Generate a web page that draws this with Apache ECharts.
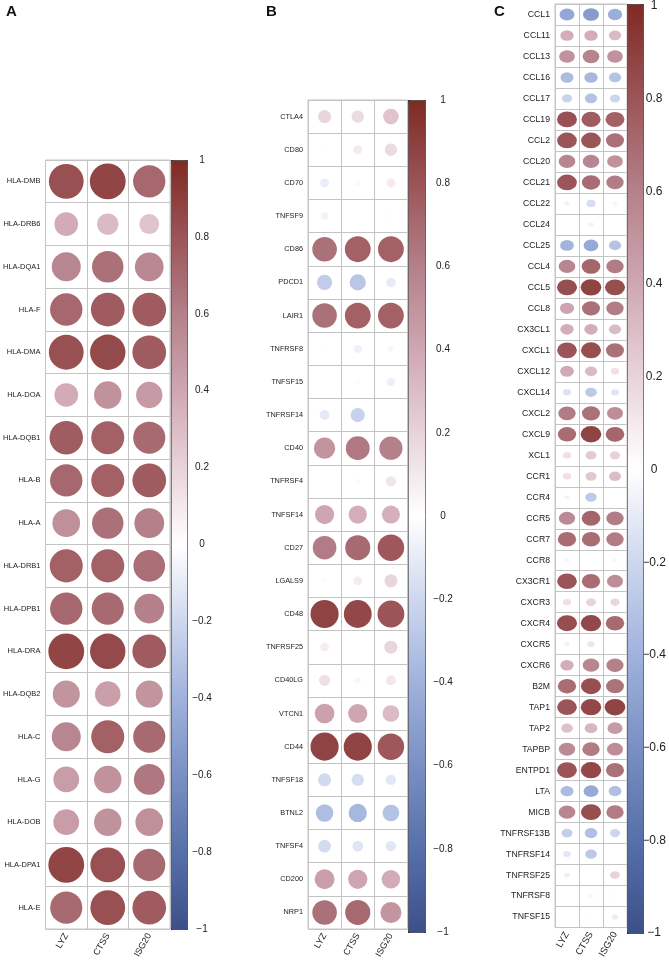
<!DOCTYPE html>
<html lang="en">
<head>
    <meta charset="UTF-8">
    <title>Correlation dot plots</title>
    <script src="https://cdn.jsdelivr.net/npm/echarts@6/dist/echarts.min.js"></script>
    <style>
        html, body { margin: 0; padding: 0; background: #fff; }
        #chart { width: 669px; height: 961px; }
    </style>
</head>
<body>
<div id="chart"></div>
<script>
    'use strict';
    // columns shared by all three panels
    const columns = ['LYZ', 'CTSS', 'ISG20'];

    // panel A
    const genesA = ['HLA-DMB', 'HLA-DRB6', 'HLA-DQA1', 'HLA-F', 'HLA-DMA', 'HLA-DOA', 'HLA-DQB1', 'HLA-B', 'HLA-A',
        'HLA-DRB1', 'HLA-DPB1', 'HLA-DRA', 'HLA-DQB2', 'HLA-C', 'HLA-G', 'HLA-DOB', 'HLA-DPA1', 'HLA-E'];
    const lyzA = [0.82, 0.38, 0.57, 0.71, 0.82, 0.38, 0.76, 0.71, 0.52, 0.74, 0.71, 0.87, 0.50, 0.57, 0.45, 0.45, 0.87, 0.70];
    const ctssA = [0.87, 0.31, 0.67, 0.77, 0.85, 0.51, 0.74, 0.74, 0.67, 0.74, 0.70, 0.85, 0.44, 0.74, 0.51, 0.51, 0.82, 0.82];
    const isgA = [0.71, 0.27, 0.56, 0.77, 0.77, 0.47, 0.70, 0.77, 0.60, 0.68, 0.60, 0.77, 0.50, 0.70, 0.64, 0.52, 0.70, 0.77];

    // panel B
    const genesB = ['CTLA4', 'CD80', 'CD70', 'TNFSF9', 'CD86', 'PDCD1', 'LAIR1', 'TNFRSF8', 'TNFSF15', 'TNFRSF14',
        'CD40', 'TNFRSF4', 'TNFSF14', 'CD27', 'LGALS9', 'CD48', 'TNFRSF25', 'CD40LG', 'VTCN1', 'CD44', 'TNFSF18',
        'BTNL2', 'TNFSF4', 'CD200', 'NRP1'];
    const lyzB = [0.19, 0.01, -0.09, 0.065, 0.67, -0.26, 0.67, 0.01, 0.005, -0.11, 0.5, 0.005, 0.41, 0.62, -0.02,
        0.88, 0.08, 0.14, 0.43, 0.88, -0.19, -0.34, -0.18, 0.44, 0.67];
    const ctssB = [0.17, 0.09, -0.03, 0.0, 0.74, -0.29, 0.74, -0.07, 0.02, -0.225, 0.63, 0.03, 0.37, 0.70, 0.09,
        0.86, 0.0, 0.04, 0.41, 0.88, -0.17, -0.37, -0.13, 0.41, 0.70];
    const isgB = [0.27, 0.17, 0.09, 0.02, 0.74, -0.10, 0.74, 0.04, -0.08, 0.0, 0.6, 0.12, 0.36, 0.78, 0.19,
        0.80, 0.19, 0.11, 0.31, 0.78, -0.12, -0.31, -0.12, 0.38, 0.49];

    // panel C
    const genesC = ['CCL1', 'CCL11', 'CCL13', 'CCL16', 'CCL17', 'CCL19', 'CCL2', 'CCL20', 'CCL21', 'CCL22', 'CCL24',
        'CCL25', 'CCL4', 'CCL5', 'CCL8', 'CX3CL1', 'CXCL1', 'CXCL12', 'CXCL14', 'CXCL2', 'CXCL9', 'XCL1', 'CCR1',
        'CCR4', 'CCR5', 'CCR7', 'CCR8', 'CX3CR1', 'CXCR3', 'CXCR4', 'CXCR5', 'CXCR6', 'B2M', 'TAP1', 'TAP2', 'TAPBP',
        'ENTPD1', 'LTA', 'MICB', 'TNFRSF13B', 'TNFRSF14', 'TNFRSF25', 'TNFRSF8', 'TNFSF15'];
    const lyzC = [-0.46, 0.37, 0.51, -0.35, -0.22, 0.82, 0.80, 0.57, 0.80, -0.06, 0.005, -0.39, 0.57, 0.83, 0.42,
        0.37, 0.80, 0.39, -0.14, 0.62, 0.69, 0.14, 0.14, -0.06, 0.55, 0.69, -0.05, 0.80, 0.14, 0.83, -0.06, 0.37,
        0.69, 0.80, 0.28, 0.55, 0.80, -0.35, 0.57, -0.25, -0.12, 0.08, 0.01, -0.01];
    const ctssC = [-0.53, 0.37, 0.58, -0.37, -0.31, 0.76, 0.80, 0.57, 0.69, -0.17, -0.06, -0.45, 0.72, 0.88, 0.67,
        0.37, 0.83, 0.31, -0.28, 0.67, 0.88, 0.24, 0.25, -0.27, 0.72, 0.69, 0.0, 0.69, 0.2, 0.86, -0.11, 0.57,
        0.83, 0.86, 0.33, 0.62, 0.86, -0.45, 0.83, -0.33, -0.28, 0.0, -0.05, -0.02];
    const isgC = [-0.42, 0.31, 0.51, -0.31, -0.21, 0.74, 0.67, 0.51, 0.62, -0.05, -0.01, -0.31, 0.62, 0.83, 0.62,
        0.31, 0.67, 0.14, -0.13, 0.53, 0.72, 0.21, 0.30, 0.0, 0.62, 0.62, 0.04, 0.53, 0.18, 0.70, 0.0, 0.60,
        0.66, 0.88, 0.46, 0.53, 0.67, -0.33, 0.62, -0.21, 0.0, 0.2, 0.03, -0.09];

    // colour bar ticks and palette
    const barMin = -1, barMax = 1, barStep = 0.2;
    const palette = ['#3D4F8A', '#5670A9', '#7A8FC4', '#A0B2DC', '#CDD7EE', '#FFFFFF',
        '#E8D3DA', '#CFA7B2', '#B4808A', '#9B5457', '#7F2A24'];

    const FONT = 'Liberation Sans, Arial, sans-serif';
    const GRID_LINE = '#C4C4C4';

    // layout of the three panels (pixels)
    const panels = [
        {letter: 'A', letterX: 6, genes: genesA, cols: [lyzA, ctssA, isgA],
            grid: {left: 42, top: 160, width: 128, height: 769}, bar: {left: 171, width: 16},
            dotW: 38.4, dotH: 38.4, yFont: 7.5, xFont: 9, barFont: 10, barMargin: 15},
        {letter: 'B', letterX: 266, genes: genesB, cols: [lyzB, ctssB, isgB],
            grid: {left: 308, top: 100, width: 99.5, height: 832}, bar: {left: 408, width: 17},
            dotW: 30, dotH: 30, yFont: 7.3, xFont: 9, barFont: 10, barMargin: 18},
        {letter: 'C', letterX: 494, genes: genesC, cols: [lyzC, ctssC, isgC],
            grid: {left: 555, top: 4, width: 72, height: 929}, bar: {left: 627, width: 16},
            dotW: 22, dotH: 17.5, yFont: 8.7, xFont: 9.5, barFont: 12, barMargin: 12}
    ];

    function barLabel(v) {
        let r = Math.round(v * 10) / 10;
        return r < 0 ? '\u2212' + Math.abs(r) : String(r);
    }

    let grids = [], xAxes = [], yAxes = [], series = [], visualMaps = [], titles = [];

    panels.forEach(function (p, i) {
        let data = [];
        p.cols.forEach(function (col, c) {
            col.forEach(function (v, r) {
                data.push([c, r, v]);
            });
        });

        grids.push(Object.assign({show: true, borderColor: GRID_LINE, borderWidth: 1, containLabel: false}, p.grid));
        xAxes.push({
            gridIndex: i, type: 'category', data: columns,
            axisLine: {show: false}, axisTick: {show: false},
            splitLine: {show: true, interval: 0, lineStyle: {color: GRID_LINE, width: 1}},
            axisLabel: {rotate: 60, margin: 5, interval: 0, fontSize: p.xFont, fontFamily: FONT, color: '#222'}
        });
        yAxes.push({
            gridIndex: i, type: 'category', data: p.genes, inverse: true,
            axisLine: {show: false}, axisTick: {show: false},
            splitLine: {show: true, interval: 0, lineStyle: {color: GRID_LINE, width: 1}},
            axisLabel: {margin: 5, interval: 0, fontSize: p.yFont, fontFamily: FONT, color: '#222'}
        });
        series.push({
            type: 'scatter', xAxisIndex: i, yAxisIndex: i, data: data, symbol: 'circle',
            symbolSize: function (val) {
                let s = Math.sqrt(Math.abs(val[2]));
                return [s * p.dotW, s * p.dotH];
            },
            itemStyle: {opacity: 1},
            silent: true
        });
        visualMaps.push({
            type: 'continuous', seriesIndex: i, dimension: 2, min: barMin, max: barMax,
            calculable: false, hoverLink: false, orient: 'vertical',
            left: p.bar.left, top: p.grid.top, itemWidth: p.bar.width, itemHeight: p.grid.height,
            padding: 0, borderColor: '#333', borderWidth: 1,
            inRange: {color: palette}
        });
        titles.push({
            text: p.letter, left: p.letterX, top: 4, padding: 0,
            textStyle: {fontSize: 15, fontWeight: 'bold', fontFamily: FONT, color: '#111'}
        });
    });

    // axes carrying the colour bar ticks
    panels.forEach(function (p, i) {
        let gi = panels.length + i;
        grids.push({left: p.bar.left, top: p.grid.top, width: p.bar.width, height: p.grid.height, show: false});
        xAxes.push({gridIndex: gi, type: 'value', show: false});
        yAxes.push({
            gridIndex: gi, type: 'value', position: 'right', min: barMin, max: barMax, interval: barStep,
            axisLine: {show: false},
            axisTick: {show: true, length: 5, lineStyle: {color: '#333', width: 1}},
            splitLine: {show: false},
            axisLabel: {margin: p.barMargin, align: 'center', fontSize: p.barFont, fontFamily: FONT, color: '#222',
                formatter: barLabel}
        });
    });

    let option = {
        backgroundColor: '#fff',
        animation: false,
        title: titles,
        grid: grids,
        xAxis: xAxes,
        yAxis: yAxes,
        visualMap: visualMaps,
        series: series
    };

    let myChart = echarts.init(document.getElementById('chart'));
    myChart.setOption(option);
</script>
</body>
</html>
